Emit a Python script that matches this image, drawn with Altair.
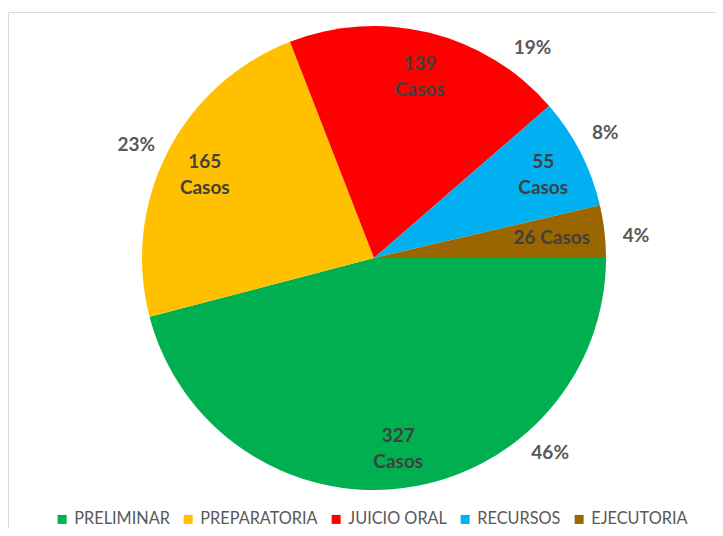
import altair as alt
import pandas as pd

categories = ["PRELIMINAR", "PREPARATORIA", "JUICIO ORAL", "RECURSOS", "EJECUTORIA"]
casos = [327, 165, 139, 55, 26]
porcentajes = [46, 23, 19, 8, 4]
colors = ["#00B050", "#FFC000", "#FF0000", "#00B0F0", "#996600"]

df = pd.DataFrame({
    "idx": list(range(len(categories))),
    "cat": categories,
    "casos": casos,
    "pct": porcentajes,
})

CX, CY, R = 366, 250, 232
FONT = "Lato"

base = (
    alt.Chart(df)
    .transform_window(cum="sum(casos)", sort=[alt.SortField("idx")], frame=[None, 0])
    .transform_joinaggregate(total="sum(casos)")
    .transform_calculate(
        t0="PI/2 + 2*PI*(datum.cum - datum.casos)/datum.total",
        t1="PI/2 + 2*PI*datum.cum/datum.total",
    )
    .transform_calculate(
        tmid="(datum.t0 + datum.t1)/2",
        frac=("datum.cat == 'PRELIMINAR' ? 0.29 : (datum.cat == 'JUICIO ORAL' ? 0.83 : "
              "(datum.cat == 'EJECUTORIA' ? 0.64 : (datum.cat == 'RECURSOS' ? 0.45 : 0.48)))"),
        r_in="datum.casos < 40 ? 179 : 190",
        two="datum.casos >= 40",
        lbl_in="datum.casos < 40 ? datum.casos + ' Casos' : datum.casos + '\\nCasos'",
        lbl_out="datum.pct + '%'",
    )
    .transform_calculate(tout="datum.t0 + datum.frac*(datum.t1 - datum.t0)")
)

color = alt.Color(
    "cat:N",
    scale=alt.Scale(domain=categories, range=colors),
    legend=alt.Legend(
        title=None,
        orient="none",
        legendX=46,
        legendY=503,
        direction="horizontal",
        symbolType="square",
        symbolSize=81,
        symbolStrokeWidth=0,
        labelFont=FONT,
        labelFontSize=16.3,
        labelColor="#595959",
        columnPadding=10,
        labelOffset=4,
    ),
)

arcs = base.mark_arc(outerRadius=R, stroke=None).encode(
    theta=alt.Theta("t0:Q", scale=None),
    theta2="t1:Q",
    color=color,
    x=alt.value(CX),
    y=alt.value(CY),
    order=alt.Order("idx:Q"),
)

inner_style = dict(
    font=FONT, fontSize=19, fontWeight="bold", color="#404040",
    align="center", baseline="middle", lineBreak="\n", lineHeight=26,
)
inner_enc = dict(
    theta=alt.Theta("tmid:Q", scale=None),
    radius=alt.Radius("r_in:Q", scale=None),
    text="lbl_in:N",
    x=alt.value(CX),
    y=alt.value(CY),
)

inner_two = base.transform_filter("datum.two").mark_text(dy=-10, **inner_style).encode(**inner_enc)
inner_one = base.transform_filter("!datum.two").mark_text(**inner_style).encode(**inner_enc)

outer = base.mark_text(
    font=FONT, fontSize=19, fontWeight="bold", color="#595959",
    align="center", baseline="middle",
).encode(
    theta=alt.Theta("tout:Q", scale=None),
    radius=alt.value(263),
    text="lbl_out:N",
    x=alt.value(CX),
    y=alt.value(CY),
)

frame_data = alt.Data(values=[{"a": 1}])
left_line = alt.Chart(frame_data).mark_rule(color="#D9D9D9", strokeWidth=1).encode(
    x=alt.value(0.5), y=alt.value(4.5), y2=alt.value(530)
)
top_line = alt.Chart(frame_data).mark_rule(color="#D9D9D9", strokeWidth=1).encode(
    x=alt.value(0.5), x2=alt.value(720), y=alt.value(4.5)
)

chart = (
    alt.layer(left_line, top_line, arcs, inner_two, inner_one, outer)
    .properties(width=707, height=520, padding=0, autosize=alt.AutoSizeParams(type="none"))
    .configure_view(stroke=None)
)

chart.save("out.html", embed_options={"renderer": "svg", "actions": False})
